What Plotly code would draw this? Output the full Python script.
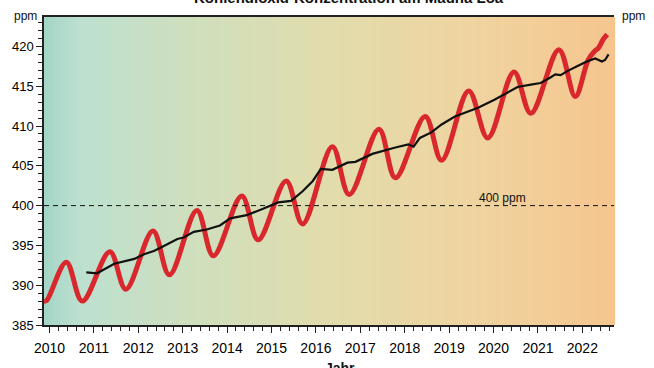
import plotly.graph_objects as go

# Monthly CO2 (smoothed) at Mauna Loa
red_years = [2009.88, 2009.94, 2010.38, 2010.74, 2011.36, 2011.72, 2012.33, 2012.70,
             2013.32, 2013.69, 2014.33, 2014.70, 2015.33, 2015.70, 2016.37, 2016.75,
             2017.42, 2017.79, 2018.46, 2018.83, 2019.44, 2019.87, 2020.46, 2020.84,
             2021.47, 2021.84, 2022.13, 2022.29, 2022.36, 2022.47, 2022.56]
red_ppm = [388.0, 388.1, 392.9, 388.0, 394.2, 389.5, 396.8, 391.3,
           399.4, 393.7, 401.2, 395.7, 403.1, 397.7, 407.4, 401.4,
           409.6, 403.5, 411.2, 405.7, 414.4, 408.5, 416.8, 411.6,
           419.6, 413.7, 418.3, 419.5, 419.8, 420.9, 421.5]

# Trend (black line)
trend_years = [2010.83, 2011.07, 2011.46, 2011.91, 2012.13, 2012.35, 2012.50, 2012.88,
               2013.02, 2013.25, 2013.54, 2013.84, 2014.07, 2014.44, 2014.81, 2015.15,
               2015.44, 2015.70, 2015.93, 2016.11, 2016.37, 2016.71, 2016.89, 2017.27,
               2017.79, 2018.08, 2018.20, 2018.34, 2018.60, 2018.83, 2019.13, 2019.42,
               2019.65, 2020.02, 2020.24, 2020.54, 2020.84, 2021.06, 2021.28, 2021.39,
               2021.51, 2021.66, 2021.88, 2022.10, 2022.29, 2022.44, 2022.51, 2022.59]
trend_ppm = [391.6, 391.5, 392.7, 393.3, 393.9, 394.3, 394.7, 395.8,
             396.0, 396.7, 397.0, 397.5, 398.4, 398.8, 399.6, 400.4,
             400.6, 401.8, 403.1, 404.6, 404.5, 405.4, 405.5, 406.5,
             407.3, 407.7, 407.4, 408.5, 409.2, 410.2, 411.2, 411.8,
             412.3, 413.3, 414.0, 414.9, 415.2, 415.4, 416.1, 416.5,
             416.4, 416.9, 417.5, 418.1, 418.5, 418.1, 418.3, 419.0]

year_ticks = list(range(2010, 2023))
ppm_ticks = [385, 390, 395, 400, 405, 410, 415, 420]
threshold = 400

FONT = "Liberation Sans, Arial, sans-serif"
X_RANGE = [2009.877, 2022.712]
Y_RANGE = [385, 423.7]

fig = go.Figure()

# background gradient (teal -> beige -> peach)
stops = [(0.0, (164, 213, 197)), (0.06, (188, 224, 208)), (0.25, (206, 223, 190)),
         (0.5, (226, 220, 172)), (0.75, (239, 212, 160)), (1.0, (246, 197, 142))]

def col_at(f):
    for (f0, c0), (f1, c1) in zip(stops[:-1], stops[1:]):
        if f0 <= f <= f1:
            t = (f - f0) / (f1 - f0)
            return "rgb(%d,%d,%d)" % tuple(round(a + (b - a) * t) for a, b in zip(c0, c1))
    return "rgb(%d,%d,%d)" % stops[-1][1]

N = 120
shapes = []
for i in range(N):
    f0, f1 = i / N, (i + 1) / N
    shapes.append(dict(type="rect", xref="paper", yref="paper", x0=f0, x1=f1 + 0.002,
                       y0=0, y1=1, fillcolor=col_at((f0 + f1) / 2),
                       line=dict(width=0), layer="below"))
shapes.append(dict(type="line", xref="paper", yref="y", x0=0, x1=1, y0=threshold, y1=threshold,
                   line=dict(color="#111", width=1, dash="5px,4px")))

fig.add_trace(go.Scatter(x=red_years, y=red_ppm, mode="lines",
                         line=dict(color="#d8282d", width=5, shape="spline", smoothing=1.0),
                         hoverinfo="skip", showlegend=False))
fig.add_trace(go.Scatter(x=trend_years, y=trend_ppm, mode="lines",
                         line=dict(color="#111111", width=2.2),
                         hoverinfo="skip", showlegend=False))

axis_common = dict(showline=True, linecolor="#222", linewidth=1.5, ticks="outside",
                   tickcolor="#222", tickwidth=1.2, showgrid=False, zeroline=False)

fig.update_layout(
    width=654, height=368,
    margin=dict(l=39, r=40, t=17, b=32),
    paper_bgcolor="white", plot_bgcolor="white",
    shapes=shapes,
    xaxis=dict(range=X_RANGE, tickvals=year_ticks, ticktext=[str(y) for y in year_ticks],
               ticklen=6, mirror=True, ticklabelstandoff=3,
               minor=dict(dtick=0.2, tick0=2010, ticklen=4, ticks="outside", tickcolor="#222", showgrid=False),
               tickfont=dict(family=FONT, size=14, color="#000"),
               **axis_common),
    yaxis=dict(range=Y_RANGE, tickvals=ppm_ticks, ticklen=6,
               minor=dict(dtick=1, tick0=385, ticklen=4, ticks="outside", tickcolor="#222", showgrid=False),
               tickfont=dict(family=FONT, size=13, color="#000"),
               **axis_common),
    yaxis2=dict(range=Y_RANGE, tickvals=ppm_ticks, ticklen=6, overlaying="y", side="right",
                anchor="x",
                minor=dict(dtick=1, tick0=385, ticklen=4, ticks="outside", tickcolor="#222", showgrid=False),
                tickfont=dict(family=FONT, size=13, color="#000"),
                **axis_common),
    annotations=[
        dict(text="<b>Kohlendioxid-Konzentration am Mauna Loa</b>", xref="paper", yref="paper",
             x=0.535, y=1.028, xanchor="center", yanchor="bottom", showarrow=False,
             font=dict(family=FONT, size=15, color="#111")),
        dict(text="<b>Jahr</b>", xref="paper", yref="paper", x=0.52, y=-0.106,
             xanchor="center", yanchor="top", showarrow=False,
             font=dict(family=FONT, size=14, color="#111")),
        dict(text="ppm", xref="paper", yref="paper", x=-0.032, y=1.003,
             xanchor="center", yanchor="middle", showarrow=False,
             font=dict(family=FONT, size=12, color="#111")),
        dict(text="ppm", xref="paper", yref="paper", x=1.035, y=1.003,
             xanchor="center", yanchor="middle", showarrow=False,
             font=dict(family=FONT, size=12, color="#111")),
        dict(text="400 ppm", xref="x", yref="y", x=2020.2, y=threshold, yshift=8,
             xanchor="center", yanchor="middle", showarrow=False,
             font=dict(family=FONT, size=12, color="#111")),
    ],
)

fig.write_html("out.html", config={"displayModeBar": False},
               post_script="document.body.style.margin='0';document.body.style.overflow='hidden';")
